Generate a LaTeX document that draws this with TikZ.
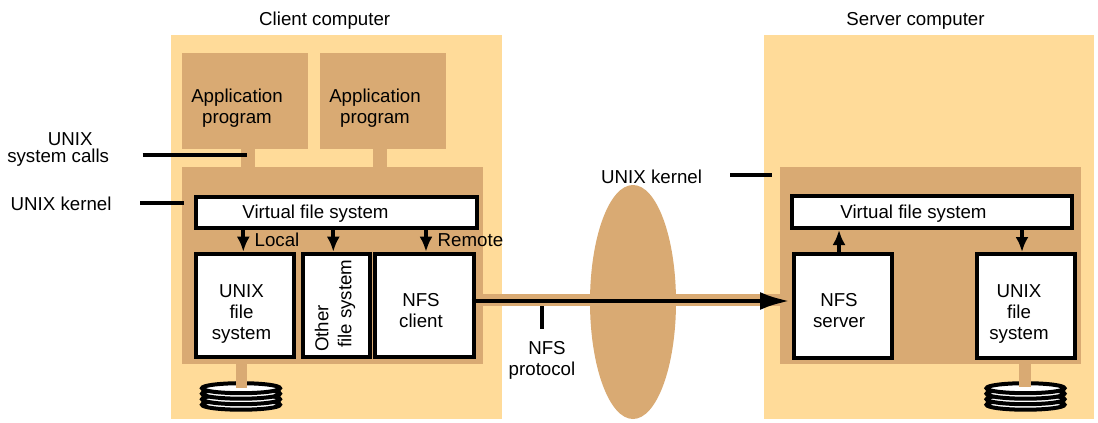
\documentclass[tikz,border=0pt]{standalone}
\usepackage{fontspec}
\setmainfont{Liberation Sans}
\usetikzlibrary{arrows.meta,shapes.geometric}
\definecolor{pale}{HTML}{FFDB99}
\definecolor{tanc}{HTML}{D9AA73}
\tikzset{
  x=1pt,y=-1pt,
  lbl/.style={font=\fontsize{18.7}{21}\selectfont,align=center,inner sep=0pt,text=black,anchor=base},
  fs/.style={draw=black,line width=4pt,fill=white,inner sep=0pt,anchor=north west},
  tanbox/.style={fill=tanc,draw=none,inner sep=0pt,anchor=north west},
  panel/.style={fill=pale,draw=none,inner sep=0pt,anchor=north west,minimum width=331pt,minimum height=384pt},
  leader/.style={draw=black,line width=4pt},
  flow/.style={draw=black,line width=4pt,-{Latex[length=15pt,width=13pt]}},
  platter/.style={draw=black,line width=4pt,fill=white},
}
\newcommand{\diskstack}[2]{%
  \foreach \dy in {16.5,11,5.5,0}{
    \draw[platter] (#1,#2+\dy) ellipse [x radius=39,y radius=5];
  }
}
\begin{document}
\begin{tikzpicture}
\useasboundingbox (0,0) rectangle (1098,423);
\fill[white] (0,0) rectangle (1098,423);
% panels
\node[panel] (client) at (171,35) {};
\node[panel,minimum width=330pt] (server) at (764,35) {};
\node[lbl] (clientlbl) at (324.7,25) {Client computer};
\node[lbl] (serverlbl) at (915.5,25) {Server computer};
% apps
\fill[tanc] (241,145) rectangle (255,170);
\fill[tanc] (372.7,145) rectangle (386.7,170);
\node[tanbox,minimum width=126pt,minimum height=95.5pt] (app1) at (182,53) {};
\node[tanbox,minimum width=126.5pt,minimum height=95.5pt] (app2) at (319.5,53) {};
\node[lbl] (app1t) at (237,123.5) {Application\\program};
\node[lbl] (app2t) at (375,123.5) {Application\\program};
% kernels
\node[tanbox,minimum width=301pt,minimum height=197pt] (kc) at (182,167) {};
\node[tanbox,minimum width=301pt,minimum height=197pt] (ks) at (780,167) {};
% disks
\diskstack{241}{388.2}
\diskstack{1025.5}{388.2}
\fill[tanc] (235.7,360) rectangle (247,387.5);
\fill[tanc] (1019,360) rectangle (1030.5,387);
% ellipse and protocol band
\node[fill=tanc,draw=none,ellipse,minimum width=86pt,minimum height=234pt,inner sep=0pt] (net) at (633,302) {};
\fill[tanc] (472,294) rectangle (790,305.7);
% VFS
\node[fs,minimum height=31pt,minimum width=281pt] (vc) at (194,195) {};
\node[lbl] (vct) at (315.5,218) {Virtual file system};
\node[fs,minimum height=32pt,minimum width=280.5pt] (vs) at (789.5,194) {};
\node[lbl] (vst) at (913.5,218) {Virtual file system};
% FS boxes
\node[fs,minimum width=98pt,minimum height=103.5pt] (ufs) at (194,251.7) {};
\node[lbl] (ufst) at (241.5,339) {UNIX\\file\\system};
\node[fs,minimum width=67.3pt,minimum height=103.5pt] (ofs) at (300.7,251.7) {};
\node[lbl,rotate=90,align=left,anchor=west] (ofst) at (335,352) {Other\\[2pt]\hspace*{4pt}file system};
\node[fs,minimum width=98.4pt,minimum height=103.5pt] (nfsc) at (373.3,251.7) {};
\node[lbl] (nfsct) at (421,327.7) {NFS\\client};
\node[fs,minimum width=98pt,minimum height=104pt] (nfss) at (792,252) {};
\node[lbl] (nfsst) at (839,327.7) {NFS\\server};
\node[fs,minimum width=98pt,minimum height=104pt] (ufs2) at (975,252) {};
\node[lbl] (ufs2t) at (1019,339) {UNIX\\file\\system};
% arrows
\draw[flow] (243.3,0 |- vc.south) -- (243.3,0 |- ufs.north);
\draw[flow] (333.3,0 |- vc.south) -- (333.3,0 |- ofs.north);
\draw[flow] (426,0 |- vc.south) -- (426,0 |- nfsc.north);
\draw[flow] (839,0 |- nfss.north) -- (839,0 |- vs.south);
\draw[flow] (1022,0 |- vs.south) -- (1022,0 |- ufs2.north);
\draw[draw=black,line width=4.5pt,-{Latex[length=30pt,width=18pt]},shorten <=-4pt,shorten >=2pt] (nfsc.east |- 0,301) -- (nfss.west |- 0,301);
% labels
\node[lbl,anchor=base west] (local) at (254.5,246.7) {Local};
\node[lbl,anchor=base west] (remote) at (437.5,246.7) {Remote};
\node[lbl] (syscalls) at (58.2,162.7) {\hspace*{24pt}UNIX\\[-3.3pt]system calls};
\coordinate (l1s) at (142.7,155.3);\coordinate (l1e) at (246.7,155.3);
\draw[leader] (l1s) -- (l1e);
\node[lbl,anchor=base west] (kl) at (10.5,210) {UNIX kernel};
\coordinate (l2s) at (140,203);\coordinate (l2e) at (184.3,203);
\draw[leader] (l2s) -- (l2e);
\node[lbl,anchor=base west] (kr) at (601,183) {UNIX kernel};
\coordinate (l3s) at (730,175);\coordinate (l3e) at (772,175);
\draw[leader] (l3s) -- (l3e);
\node[lbl] (proto) at (542,375) {\hspace*{10pt}NFS\\protocol};
\coordinate (l4s) at (542,306);\coordinate (l4e) at (542,329);
\draw[leader] (l4s) -- (l4e);
\end{tikzpicture}
\end{document}
